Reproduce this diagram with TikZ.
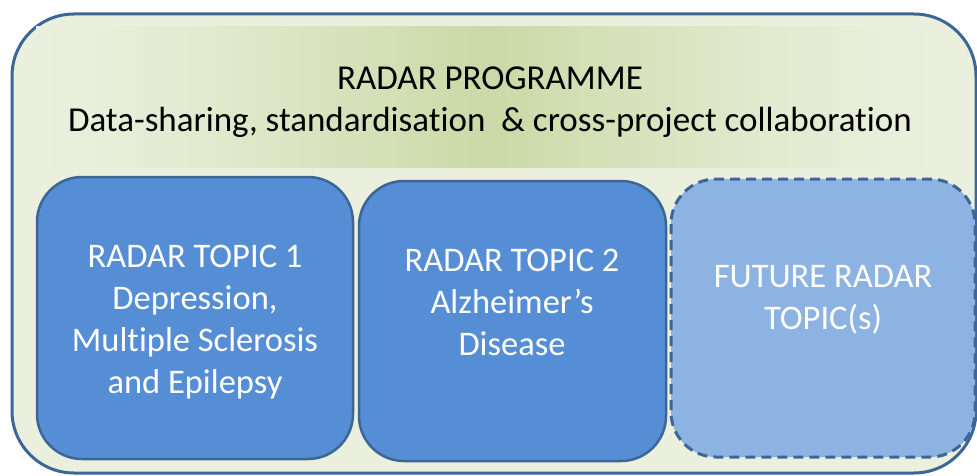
\documentclass[tikz,border=0pt]{standalone}
\usepackage{fontspec}
\setmainfont[RawFeature=-liga]{Carlito}
\begin{document}
\begin{tikzpicture}[x=1pt,y=-1pt,
  outerbox/.style={draw=borderblue,line width=3pt,fill=outergreen,rounded corners=62pt},
  topicbox/.style={draw=borderblue,line width=2.5pt,fill=topicblue,rounded corners=45pt},
  futurebox/.style={draw=borderblue,line width=3pt,fill=futureblue,rounded corners=45pt,dash pattern=on 10pt off 6pt},
  topictext/.style={text=white,font=\fontsize{34.5}{42}\selectfont,align=center},
  headtext/.style={text=black,font=\fontsize{35}{42}\selectfont,align=center}]
\definecolor{borderblue}{HTML}{3C6696}
\definecolor{outergreen}{HTML}{EBF0DE}
\definecolor{bandgreen}{HTML}{CAD9A6}
\definecolor{topicblue}{HTML}{558ED5}
\definecolor{futureblue}{HTML}{8DB3E2}
\useasboundingbox (0,0) rectangle (977,476);
\draw[outerbox] (12,14) rectangle (976,473);
\foreach \i in {0,...,99}{
  \pgfmathsetmacro{\t}{(\i+0.5)/100}
  \pgfmathsetmacro{\f}{100*(1-abs(2*\t-1))^1.3}
  \fill[bandgreen!\f!outergreen] ({36+9.04*\i},26) rectangle ({36+9.04*(\i+1)+0.6},168);
}
\node[headtext] (head) at (490,102) {RADAR PROGRAMME\\Data-sharing, standardisation\ \ \& cross-project collaboration};
\draw[topicbox] (37,177) rectangle (353,459);
\node[topictext] (t1) at (195,322) {RADAR TOPIC 1\\Depression,\\Multiple Sclerosis\\and Epilepsy};
\draw[topicbox] (359,181) rectangle (666,461);
\node[topictext] (t2) at (512,302) {RADAR TOPIC 2\\Alzheimer’s\\Disease};
\draw[futurebox] (671,179) rectangle (975,457);
\node[topictext] (t3) at (823,300) {FUTURE RADAR\\TOPIC(s)};
\end{tikzpicture}
\end{document}
